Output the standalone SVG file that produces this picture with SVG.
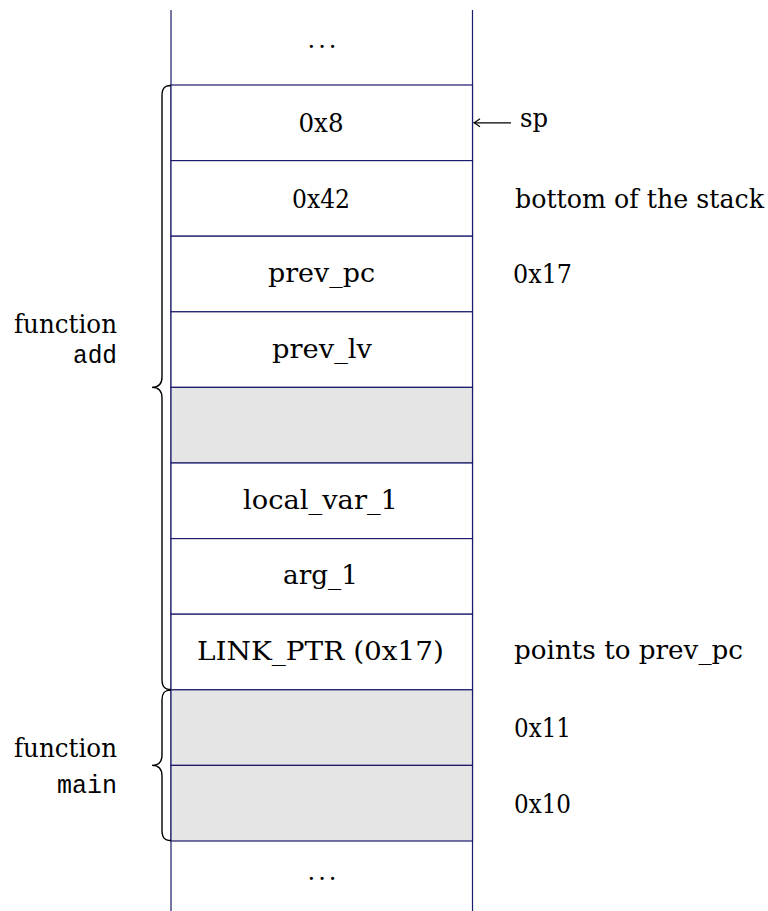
<svg xmlns="http://www.w3.org/2000/svg" width="768" height="911" viewBox="0 0 768 911">
<style>
.t{font-family:"DejaVu Serif","Liberation Serif","Times New Roman",serif;font-size:25.5px;fill:#000}
.m{font-family:"Liberation Mono","DejaVu Sans Mono","Courier New",monospace;font-size:25px;fill:#000}
.c{text-anchor:middle}
.e{text-anchor:end}
.d{font-family:"DejaVu Serif",serif;font-size:24px;letter-spacing:3px;text-anchor:middle}
.cell{stroke:#1c1c6b;stroke-width:1.2;fill:#fff}
.grey{fill:#e5e5e5}
.brace{fill:none;stroke:#000;stroke-width:1.4}
.col{stroke:#1c1c6b;stroke-width:1.2}
</style>
<defs>
<marker id="ah" viewBox="-7 -5 8 10" markerWidth="8" markerHeight="10" refX="0" refY="0" orient="auto" markerUnits="userSpaceOnUse">
<path d="M-6,-4 Q-2,-1 0,0 Q-2,1 -6,4" fill="none" stroke="#000" stroke-width="1.1"/>
</marker>
</defs>
<g id="column">
<line class="col" x1="171" y1="10" x2="171" y2="911"/>
<line class="col" x1="472.5" y1="10" x2="472.5" y2="911"/>
</g>
<g id="top-dots"><text class="d" x="323.5" y="48">...</text></g>
<g id="cell-0x8"><rect class="cell" x="171" y="85" width="301.5" height="75.6"/><text class="t c" x="321" y="132" textLength="45" lengthAdjust="spacingAndGlyphs">0x8</text></g>
<g id="cell-0x42"><rect class="cell" x="171" y="160.6" width="301.5" height="75.6"/><text class="t c" x="321" y="207.5" textLength="58" lengthAdjust="spacingAndGlyphs">0x42</text></g>
<g id="cell-prev_pc"><rect class="cell" x="171" y="236.2" width="301.5" height="75.6"/><text class="t c" x="321.5" y="282" textLength="107" lengthAdjust="spacingAndGlyphs">prev_pc</text></g>
<g id="cell-prev_lv"><rect class="cell" x="171" y="311.8" width="301.5" height="75.6"/><text class="t c" x="322" y="358" textLength="100" lengthAdjust="spacingAndGlyphs">prev_lv</text></g>
<g id="cell-empty1"><rect class="cell grey" x="171" y="387.4" width="301.5" height="75.6"/></g>
<g id="cell-local_var_1"><rect class="cell" x="171" y="463" width="301.5" height="75.6"/><text class="t c" x="320.5" y="509" textLength="155" lengthAdjust="spacingAndGlyphs">local_var_1</text></g>
<g id="cell-arg_1"><rect class="cell" x="171" y="538.6" width="301.5" height="75.6"/><text class="t c" x="320.5" y="584" textLength="75" lengthAdjust="spacingAndGlyphs">arg_1</text></g>
<g id="cell-link_ptr"><rect class="cell" x="171" y="614.2" width="301.5" height="75.6"/><text class="t c" x="320.5" y="660" textLength="247" lengthAdjust="spacingAndGlyphs">LINK_PTR (0x17)</text></g>
<g id="cell-empty2"><rect class="cell grey" x="171" y="689.8" width="301.5" height="75.6"/></g>
<g id="cell-empty3"><rect class="cell grey" x="171" y="765.4" width="301.5" height="75.6"/></g>
<g id="bottom-dots"><text class="d" x="323.5" y="880">...</text></g>
<g id="connectors">
<line x1="511" y1="122.8" x2="474" y2="122.8" stroke="#000" stroke-width="1.3" marker-end="url(#ah)"/>
</g>
<g id="label-sp"><text class="t" x="520" y="127" textLength="28" lengthAdjust="spacingAndGlyphs">sp</text></g>
<g id="label-bottom"><text class="t" x="515" y="207.5" textLength="249" lengthAdjust="spacingAndGlyphs">bottom of the stack</text></g>
<g id="label-0x17"><text class="t" x="513" y="282.5" textLength="59" lengthAdjust="spacingAndGlyphs">0x17</text></g>
<g id="label-points"><text class="t" x="514" y="659" textLength="229" lengthAdjust="spacingAndGlyphs">points to prev_pc</text></g>
<g id="label-0x11"><text class="t" x="514" y="736.5" textLength="57" lengthAdjust="spacingAndGlyphs">0x11</text></g>
<g id="label-0x10"><text class="t" x="514" y="812.5" textLength="57" lengthAdjust="spacingAndGlyphs">0x10</text></g>
<g id="brace-add">
<path class="brace" d="M171,85.5 C164,85.5 162,89 162,96 L162,377 C162,384 159,387.4 152,387.4 C159,387.4 162,391 162,398 L162,679 C162,686 164,689.5 171,689.5"/>
<text class="t e" x="117" y="333" textLength="103" lengthAdjust="spacingAndGlyphs">function</text>
<text class="m e" x="117" y="363" textLength="44" lengthAdjust="spacingAndGlyphs">add</text>
</g>
<g id="brace-main">
<path class="brace" d="M171,690 C164,690 162,693.5 162,700 L162,755 C162,762 159,765.4 152,765.4 C159,765.4 162,769 162,776 L162,830 C162,837 164,840.5 171,840.5"/>
<text class="t e" x="117" y="757" textLength="103" lengthAdjust="spacingAndGlyphs">function</text>
<text class="m e" x="117" y="793" textLength="60" lengthAdjust="spacingAndGlyphs">main</text>
</g>
</svg>
